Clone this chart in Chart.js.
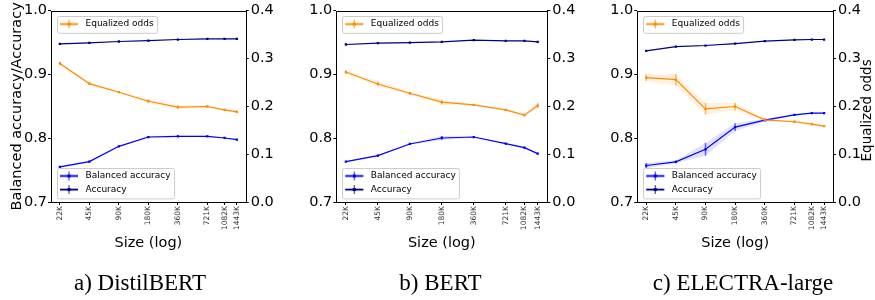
<!DOCTYPE html>
<html>
<head>
<meta charset="utf-8">
<script src="https://cdn.jsdelivr.net/npm/chart.js@4.4.1/dist/chart.umd.min.js"></script>
<style>
html, body { margin: 0; padding: 0; background: #fff; }
#wrap { position: relative; width: 875px; height: 300px; overflow: hidden; }
canvas { position: absolute; top: 0; }
</style>
</head>
<body>
<div id="wrap">
  <canvas id="c1" width="292" height="300" style="left:0px"></canvas>
  <canvas id="c2" width="290" height="300" style="left:292px"></canvas>
  <canvas id="c3" width="293" height="300" style="left:582px"></canvas>
</div>
<script>
/* ====== DATA ====== */
const sizes = [22550, 45100, 90200, 180400, 360800, 721600, 1082400, 1443200];
const sizeLabels = ['22K', '45K', '90K', '180K', '360K', '721K', '1082K', '1443K'];
const leftTicks = [0.7, 0.8, 0.9, 1.0];
const rightTicks = [0.0, 0.1, 0.2, 0.3, 0.4];

// a) DistilBERT
const distilAcc = [0.948, 0.9496, 0.9517, 0.9532, 0.9548, 0.9558, 0.9558, 0.9558];
const distilBal = [0.7551, 0.7634, 0.7873, 0.8019, 0.8030, 0.8030, 0.8004, 0.7978];
const distilEo = [0.2898, 0.2475, 0.2295, 0.2107, 0.1983, 0.1997, 0.1927, 0.1886];
const distilAccErr = [0.0006, 0.0005, 0.0005, 0.0005, 0.0005, 0.0005, 0.0005, 0.0005];
const distilBalErr = [0.0012, 0.0012, 0.001, 0.0015, 0.0012, 0.001, 0.001, 0.001];
const distilEoErr = [0.004, 0.003, 0.002, 0.004, 0.004, 0.003, 0.002, 0.003];

// b) BERT
const bertAcc = [0.947, 0.949, 0.950, 0.951, 0.9537, 0.9527, 0.9527, 0.951];
const bertBal = [0.7634, 0.7728, 0.791, 0.8004, 0.8019, 0.7915, 0.7853, 0.7759];
const bertEo = [0.2718, 0.2468, 0.2274, 0.2087, 0.2031, 0.1927, 0.1816, 0.2017];
const bertAccErr = [0.0005, 0.0005, 0.0005, 0.0005, 0.0005, 0.0005, 0.0005, 0.0005];
const bertBalErr = [0.001, 0.0012, 0.001, 0.003, 0.001, 0.001, 0.001, 0.0012];
const bertEoErr = [0.004, 0.005, 0.003, 0.005, 0.002, 0.002, 0.003, 0.006];

// c) ELECTRA-large
const electraAcc = [0.9371, 0.9438, 0.9454, 0.9485, 0.9522, 0.9542, 0.9548, 0.9548];
const electraBal = [0.7572, 0.7629, 0.7827, 0.8175, 0.8284, 0.8367, 0.8393, 0.8393];
const electraEo = [0.26, 0.2558, 0.1948, 0.1997, 0.1719, 0.1678, 0.1629, 0.1588];
const electraAccErr = [0.0008, 0.0006, 0.0006, 0.0006, 0.0005, 0.0005, 0.0005, 0.0005];
const electraBalErr = [0.004, 0.002, 0.01, 0.006, 0.002, 0.001, 0.001, 0.001];
const electraEoErr = [0.007, 0.012, 0.012, 0.008, 0.003, 0.002, 0.003, 0.002];

const captions = ['a) DistilBERT', 'b) BERT', 'c) ELECTRA-large'];

/* ====== STYLE ====== */
const ORANGE = '#ff8c00';
const BLUE = '#0000ff';
const NAVY = '#000080';
const FONT = 'DejaVu Sans';
Chart.defaults.font.family = FONT;
Chart.defaults.color = '#000';

// matplotlib-like 5% margins on the log x axis
const lo = Math.log10(sizes[0]), hi = Math.log10(sizes[sizes.length - 1]);
const xMin = Math.pow(10, lo - 0.05 * (hi - lo));
const xMax = Math.pow(10, hi + 0.05 * (hi - lo));

function alpha(hex, a) {
    const n = parseInt(hex.slice(1), 16);
    return `rgba(${(n >> 16) & 255},${(n >> 8) & 255},${n & 255},${a})`;
}

function pts(vals) {
    return vals.map((v, i) => ({ x: sizes[i], y: v }));
}

/* ====== PLUGINS ====== */
// faint band + vertical error bars, behind the lines
const errorBars = {
    id: 'errorBars',
    beforeDatasetsDraw(chart) {
        const ctx = chart.ctx;
        chart.data.datasets.forEach(ds => {
            if (!ds.errs) return;
            const xs = chart.scales.x, ys = chart.scales[ds.yAxisID];
            ctx.save();
            ctx.beginPath();
            ds.data.forEach((p, i) => {
                const px = xs.getPixelForValue(p.x), py = ys.getPixelForValue(p.y + ds.errs[i]);
                i === 0 ? ctx.moveTo(px, py) : ctx.lineTo(px, py);
            });
            for (let i = ds.data.length - 1; i >= 0; i--) {
                const p = ds.data[i];
                ctx.lineTo(xs.getPixelForValue(p.x), ys.getPixelForValue(p.y - ds.errs[i]));
            }
            ctx.closePath();
            ctx.fillStyle = alpha(ds.borderColor, 0.12);
            ctx.fill();
            ctx.strokeStyle = alpha(ds.borderColor, 0.6);
            ctx.lineWidth = 1.5;
            ds.data.forEach((p, i) => {
                const px = xs.getPixelForValue(p.x);
                ctx.beginPath();
                ctx.moveTo(px, ys.getPixelForValue(p.y - ds.errs[i]));
                ctx.lineTo(px, ys.getPixelForValue(p.y + ds.errs[i]));
                ctx.stroke();
            });
            ctx.restore();
        });
    }
};

// full box around the plot area (matplotlib spines)
const frame = {
    id: 'frame',
    afterDatasetsDraw(chart) {
        const { left, top, right, bottom } = chart.chartArea;
        const ctx = chart.ctx;
        ctx.save();
        ctx.strokeStyle = '#000';
        ctx.lineWidth = 1;
        ctx.strokeRect(Math.round(left) + 0.5, Math.round(top) + 0.5,
            Math.round(right) - Math.round(left), Math.round(bottom) - Math.round(top));
        ctx.restore();
    }
};

function drawHandle(ctx, x, y, color) {
    ctx.save();
    ctx.strokeStyle = alpha(color, 0.35);
    ctx.lineWidth = 3;
    ctx.beginPath(); ctx.moveTo(x, y); ctx.lineTo(x + 18, y); ctx.stroke();
    ctx.strokeStyle = color;
    ctx.lineWidth = 1.2;
    ctx.beginPath(); ctx.moveTo(x, y); ctx.lineTo(x + 18, y); ctx.stroke();
    ctx.strokeStyle = alpha(color, 0.7);
    ctx.lineWidth = 1.2;
    ctx.beginPath(); ctx.moveTo(x + 9, y - 4.5); ctx.lineTo(x + 9, y + 4.5); ctx.stroke();
    ctx.fillStyle = color;
    ctx.fillRect(x + 7.5, y - 1.5, 3, 3);
    ctx.restore();
}

function drawLegendBox(ctx, x, y, items, anchorBottom) {
    ctx.save();
    ctx.font = `9px "${FONT}"`;
    const rowH = 13.6;
    const textW = Math.max(...items.map(it => ctx.measureText(it.label).width));
    const w = 3.5 + 18 + 7.5 + textW + 3;
    const h = items.length * rowH + 3.2;
    const top = anchorBottom ? y - h : y;
    ctx.fillStyle = 'rgba(255,255,255,0.8)';
    ctx.strokeStyle = '#cccccc';
    ctx.lineWidth = 1;
    ctx.beginPath();
    ctx.roundRect(Math.round(x) + 0.5, Math.round(top) + 0.5, w, h, 2);
    ctx.fill();
    ctx.stroke();
    items.forEach((it, i) => {
        const cy = top + 1.6 + rowH * (i + 0.5);
        drawHandle(ctx, x + 3.5, cy, it.color);
        ctx.fillStyle = '#000';
        ctx.textBaseline = 'middle';
        ctx.textAlign = 'left';
        ctx.fillText(it.label, x + 29, cy);
    });
    ctx.restore();
}

const boxLegends = {
    id: 'boxLegends',
    afterDraw(chart) {
        const { left, top, bottom } = chart.chartArea;
        const ctx = chart.ctx;
        drawLegendBox(ctx, left + 5.5, top + 5, [{ label: 'Equalized odds', color: ORANGE }], false);
        drawLegendBox(ctx, left + 5.5, bottom - 4, [
            { label: 'Balanced accuracy', color: BLUE },
            { label: 'Accuracy', color: NAVY }
        ], true);
    }
};

// caption under each panel and the right-hand axis title (reads bottom to top)
const extras = {
    id: 'extras',
    afterDraw(chart, args, opts) {
        const ctx = chart.ctx;
        ctx.save();
        ctx.fillStyle = '#000';
        ctx.font = '23px "Liberation Serif"';
        ctx.textAlign = 'center';
        ctx.textBaseline = 'alphabetic';
        ctx.fillText(opts.caption, opts.captionX, 290);
        if (opts.rightTitle) {
            const { top, bottom } = chart.chartArea;
            ctx.font = `13.5px "${FONT}"`;
            ctx.textBaseline = 'alphabetic';
            ctx.translate(opts.rightTitleX, (top + bottom) / 2 + 4);
            ctx.rotate(-Math.PI / 2);
            ctx.fillText(opts.rightTitle, 0, 0);
        }
        ctx.restore();
    }
};

/* ====== CHARTS ====== */
function makeChart(id, p) {
    const tickGrid = { drawOnChartArea: false, drawTicks: true, tickLength: 3, color: '#000' };
    return new Chart(document.getElementById(id), {
        type: 'line',
        data: {
            datasets: [
                { label: 'Equalized odds', data: pts(p.eo), errs: p.eoErr, yAxisID: 'y2',
                  borderColor: ORANGE, backgroundColor: ORANGE },
                { label: 'Balanced accuracy', data: pts(p.bal), errs: p.balErr, yAxisID: 'y',
                  borderColor: BLUE, backgroundColor: BLUE },
                { label: 'Accuracy', data: pts(p.acc), errs: p.accErr, yAxisID: 'y',
                  borderColor: NAVY, backgroundColor: NAVY }
            ].map(ds => Object.assign(ds, {
                borderWidth: 1.2, tension: 0, pointStyle: 'rect', pointRadius: 1.6,
                pointBorderWidth: 0, pointHoverRadius: 1.6, fill: false
            }))
        },
        options: {
            responsive: false,
            animation: false,
            devicePixelRatio: 1,
            layout: { padding: { top: 10, bottom: 48, left: 0, right: 0 } },
            plugins: {
                legend: { display: false },
                tooltip: { enabled: false },
                extras: { caption: p.caption, captionX: p.captionX,
                          rightTitle: p.rightTitle, rightTitleX: p.rightTitleX }
            },
            scales: {
                x: {
                    type: 'logarithmic',
                    min: xMin,
                    max: xMax,
                    afterBuildTicks: s => { s.ticks = sizes.map(v => ({ value: v })); },
                    afterFit: s => { s.height = 50; },
                    ticks: {
                        autoSkip: false, minRotation: 90, maxRotation: 90, padding: 1,
                        color: '#333', font: { size: 7.5 },
                        callback: (v, i) => sizeLabels[i]
                    },
                    grid: tickGrid,
                    border: { display: false },
                    title: { display: true, text: 'Size (log)', font: { size: 14.5 },
                             padding: { top: 0, bottom: 0 } }
                },
                y: {
                    position: 'left',
                    min: 0.7,
                    max: 1.0,
                    afterBuildTicks: s => { s.ticks = leftTicks.map(v => ({ value: v })); },
                    afterFit: s => { s.width = p.leftW; },
                    ticks: { padding: 1, font: { size: 14.5 }, callback: v => v.toFixed(1) },
                    grid: tickGrid,
                    border: { display: false },
                    title: { display: p.leftTitle, text: 'Balanced accuracy/Accuracy',
                             font: { size: 14.5 }, padding: { top: 9, bottom: 0 } }
                },
                y2: {
                    position: 'right',
                    min: 0,
                    max: 0.4,
                    afterBuildTicks: s => { s.ticks = rightTicks.map(v => ({ value: v })); },
                    afterFit: s => { s.width = p.rightW; },
                    ticks: { padding: 2, font: { size: 14.5 }, callback: v => v.toFixed(1) },
                    grid: tickGrid,
                    border: { display: false }
                }
            }
        },
        plugins: [errorBars, frame, boxLegends, extras]
    });
}

makeChart('c1', {
    acc: distilAcc, bal: distilBal, eo: distilEo,
    accErr: distilAccErr, balErr: distilBalErr, eoErr: distilEoErr,
    leftW: 51, rightW: 46.3, leftTitle: true,
    caption: captions[0], captionX: 140
});
makeChart('c2', {
    acc: bertAcc, bal: bertBal, eo: bertEo,
    accErr: bertAccErr, balErr: bertBalErr, eoErr: bertEoErr,
    leftW: 44.3, rightW: 34.7, leftTitle: false,
    caption: captions[1], captionX: 148.5
});
makeChart('c3', {
    acc: electraAcc, bal: electraBal, eo: electraEo,
    accErr: electraAccErr, balErr: electraBalErr, eoErr: electraEoErr,
    leftW: 55.3, rightW: 42, leftTitle: false,
    caption: captions[2], captionX: 161,
    rightTitle: 'Equalized odds', rightTitleX: 289
});
</script>
</body>
</html>
